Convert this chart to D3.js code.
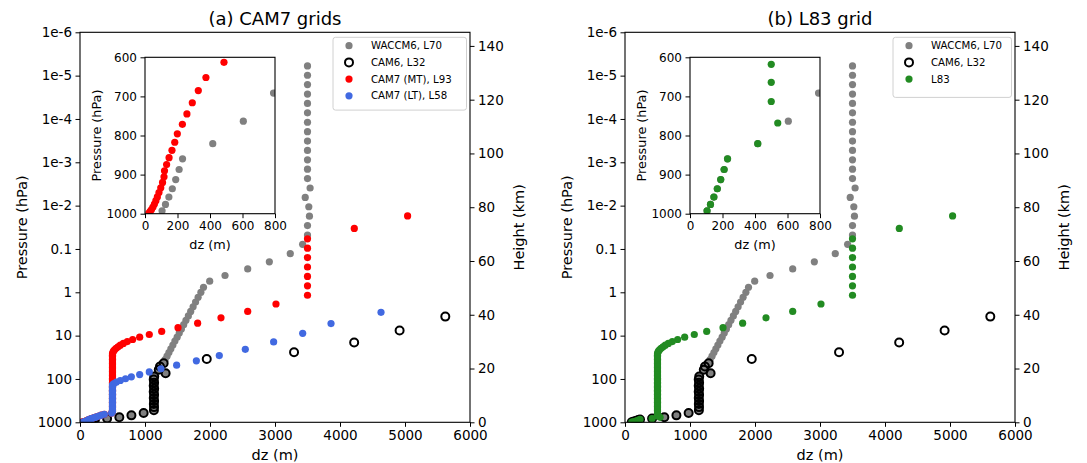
<!DOCTYPE html>
<html>
<head>
<meta charset="utf-8">
<script src="https://cdn.jsdelivr.net/npm/d3@7"></script>
<style>
  body { margin: 0; background: #fff; }
  text { font-family: "DejaVu Sans", sans-serif; fill: #000; }
</style>
</head>
<body>
<svg id="chart" width="1087" height="463"></svg>
<script>
// ---------------- level data: mid-level pressure (hPa) and layer thickness dz (m) ----------------

// WACCM6, 70 levels (top -> bottom)
const waccmP = [5.96e-6, 9.8e-6, 1.61e-5, 2.66e-5, 4.38e-5, 7.22e-5, 1.19e-4, 1.96e-4, 3.23e-4, 5.32e-4,
  8.76e-4, 1.44e-3, 2.38e-3, 3.92e-3, 6.46e-3, 1.06e-2, 1.75e-2, 2.89e-2, 4.76e-2, 0.078,
  0.128, 0.198, 0.289, 0.410, 0.555, 0.764, 1.00, 1.30, 1.68, 2.16,
  2.76, 3.51, 4.44, 5.59, 7.00, 8.73, 10.83, 13.37, 16.43, 20.10,
  24.49, 29.71, 35.9, 43.19, 51.68, 61.52, 73.75, 87.82, 103.32, 121.55,
  142.99, 168.23, 197.91, 232.83, 273.91, 322.24, 379.10, 445.99, 524.69, 609.78,
  691.39, 763.40, 820.86, 859.53, 887.02, 912.64, 936.20, 957.49, 976.33, 992.56];
const waccmDz = [3500, 3500, 3500, 3500, 3500, 3500, 3500, 3500, 3500, 3500,
  3500, 3500, 3500, 3540, 3465, 3520, 3530, 3500, 3500, 3425,
  3235, 2913, 2580, 2231, 1995, 1900, 1860, 1817, 1778, 1740,
  1703, 1667, 1630, 1595, 1560, 1527, 1494, 1460, 1429, 1398,
  1368, 1339, 1310, 1287, 1230, 1212, 1317, 1142, 1134, 1140,
  1134, 1141, 1134, 1140, 1135, 1140, 1136, 1139, 1137, 979,
  791, 605, 417, 231, 210, 189, 168, 147, 126, 105];

// CAM6, 32 levels
const cam6P = [3.64, 7.59, 14.36, 24.13, 34.47, 43.19, 51.68, 61.52, 73.75, 87.82,
  103.32, 121.55, 142.99, 168.23, 197.91, 232.83, 273.91, 322.24, 379.10, 445.99,
  524.69, 609.78, 691.39, 763.40, 820.86, 859.53, 887.02, 912.64, 936.20, 957.49,
  976.33, 992.56];
const cam6Dz = [5620, 4917, 4218, 3293, 1950, 1287, 1230, 1212, 1317, 1142,
  1134, 1140, 1134, 1141, 1134, 1140, 1135, 1140, 1136, 1139,
  1137, 979, 791, 605, 417, 231, 210, 189, 168, 147,
  126, 105];

// CAM7 (MT), 93 levels
const mtP = [0.0173, 0.0335, 0.0582, 0.0960, 0.158, 0.261, 0.430, 0.709, 1.17, 1.86,
  2.77, 3.89, 5.17, 6.55, 7.98, 9.42, 10.85, 12.28, 13.71, 15.15,
  16.61, 18.10, 19.64, 21.23, 22.88, 24.61, 26.44, 28.4, 30.5, 32.8,
  35.2, 37.9, 40.7, 43.7, 46.9, 50.4, 54.1, 58.1, 62.4, 67.0,
  72.0, 77.3, 83.0, 89.2, 95.8, 102.8, 110.5, 118.6, 127.4, 136.9,
  147.0, 157.9, 169.6, 182.1, 195.6, 210.1, 225.7, 242.4, 260.3, 279.6,
  300.3, 322.6, 346.4, 372.1, 399.6, 429.2, 461.0, 495.2, 531.8, 571.2,
  612.8, 651.7, 685.2, 716.3, 744.8, 771.3, 795.6, 817.3, 838.0, 856.8,
  874.3, 890.2, 905.5, 920.1, 933.7, 946.0, 957.0, 966.8, 975.4, 982.9,
  989.2, 994.3, 998.3];
const mtDz = [5040, 4220, 3500, 3500, 3500, 3500, 3500, 3500, 3500, 3015,
  2580, 2169, 1810, 1508, 1257, 1066, 918, 810, 728, 667,
  620, 585, 555, 532, 515, 505, 500, 500, 500, 500,
  500, 500, 500, 500, 500, 500, 500, 500, 500, 500,
  500, 500, 500, 500, 500, 500, 500, 500, 500, 500,
  500, 500, 500, 500, 500, 500, 500, 500, 500, 500,
  500, 500, 500, 500, 500, 500, 500, 500, 500, 500,
  486, 375, 328, 291, 258, 230, 199, 183, 166, 148,
  133, 120, 117, 108, 97, 86, 76, 67, 58, 49,
  40, 32, 24];

// CAM7 (LT), 58 levels
const ltP = [2.9, 5.27, 8.85, 14.0, 20.7, 28.8, 38.1, 48.0, 58.4, 68.8,
  79.0, 89.2, 98.8, 108.5, 117.9, 127.3, 136.9, 147.0, 157.9, 169.6,
  182.1, 195.6, 210.1, 225.7, 242.4, 260.3, 279.6, 300.3, 322.6, 346.4,
  372.1, 399.6, 429.2, 461.0, 495.2, 531.8, 571.2, 612.8, 651.7, 685.2,
  716.3, 744.8, 771.3, 795.6, 817.3, 838.0, 856.8, 874.3, 890.6, 906.5,
  921.7, 936.0, 949.4, 961.7, 972.7, 982.4, 990.6, 997.1];
const ltDz = [4631, 3862, 3426, 2979, 2543, 2143, 1790, 1487, 1246, 1066,
  918, 790, 700, 620, 560, 520, 500, 500, 500, 500,
  500, 500, 500, 500, 500, 500, 500, 500, 500, 500,
  500, 500, 500, 500, 500, 500, 500, 486, 375, 328,
  291, 258, 230, 199, 183, 166, 148, 133, 127, 120,
  112, 104, 95, 85, 75, 64, 52, 40];

// L83
const l83P = [0.0173, 0.0335, 0.0582, 0.0960, 0.158, 0.261, 0.430, 0.709, 1.17, 1.86,
  2.77, 3.89, 5.17, 6.55, 7.98, 9.42, 10.85, 12.28, 13.71, 15.15,
  16.61, 18.10, 19.64, 21.23, 22.88, 24.61, 26.44, 28.4, 30.5, 32.8,
  35.2, 37.9, 40.7, 43.7, 46.9, 50.4, 54.1, 58.1, 62.4, 67.0,
  72.0, 77.3, 83.0, 89.2, 95.8, 102.8, 110.5, 118.6, 127.4, 136.9,
  147.0, 157.9, 169.6, 182.1, 195.6, 210.1, 225.7, 242.4, 260.3, 279.6,
  300.3, 322.6, 346.4, 372.1, 399.6, 429.2, 461.0, 495.2, 531.8, 573.0,
  618.0, 664.0, 713.0, 768.0, 820.86, 859.53, 887.02, 912.64, 936.20, 957.49,
  976.33, 992.56];
const l83Dz = [5040, 4220, 3500, 3500, 3500, 3500, 3500, 3500, 3500, 3015,
  2580, 2169, 1810, 1508, 1257, 1066, 918, 810, 728, 667,
  620, 585, 555, 532, 515, 505, 500, 500, 500, 500,
  500, 500, 500, 500, 500, 500, 500, 500, 500, 500,
  500, 500, 500, 500, 500, 500, 500, 500, 500, 500,
  500, 500, 500, 500, 500, 500, 500, 500, 500, 500,
  500, 500, 500, 500, 500, 500, 500, 500, 500, 500,
  500, 500, 500, 540, 417, 231, 210, 189, 168, 147,
  126, 105];

// axis ticks and labels
const dzTicks = [0, 1000, 2000, 3000, 4000, 5000, 6000];
const pTicks = [1000, 100, 10, 1, 0.1, 1e-2, 1e-3, 1e-4, 1e-5, 1e-6];
const pTickLabels = ["1000", "100", "10", "1", "0.1", "1e-2", "1e-3", "1e-4", "1e-5", "1e-6"];
const kmTicks = [0, 20, 40, 60, 80, 100, 120, 140];
const insetDzTicks = [0, 200, 400, 600, 800];
const insetPTicks = [600, 700, 800, 900, 1000];

const titles = ["(a) CAM7 grids", "(b) L83 grid"];
const names = {
  waccm: "WACCM6, L70", cam6: "CAM6, L32",
  mt: "CAM7 (MT), L93", lt: "CAM7 (LT), L58", l83: "L83"
};

// ---------------- drawing ----------------
const svg = d3.select("#chart");
const zip = (ps, dzs) => ps.map((p, i) => ({ p, dz: dzs[i] }));

const series = {
  waccm: { data: zip(waccmP, waccmDz), fill: "#808080", stroke: "none" },
  cam6:  { data: zip(cam6P, cam6Dz), fill: "none", stroke: "#000" },
  mt:    { data: zip(mtP, mtDz), fill: "#ff0000", stroke: "none" },
  lt:    { data: zip(ltP, ltDz), fill: "#4169e1", stroke: "none" },
  l83:   { data: zip(l83P, l83Dz), fill: "#228b22", stroke: "none" }
};

const M = { w: 390, h: 390, top: 32.3 };
const R_DOT = 3.6, R_RING = 4.0, RING_W = 2;
const TICK_FS = 13.5, LABEL_FS = 14.5, TITLE_FS = 18;
const IN = { dx: 65, dy: 25, w: 130, h: 156.4 };
const HMAX = 7 * Math.log(1e9); // km, scale height 7 km from 1000 hPa to 1e-6 hPa
const fmtInt = d3.format("d");

function drawMarks(g, key, x, y) {
  const s = series[key];
  g.append("g").selectAll("circle").data(s.data).join("circle")
    .attr("cx", d => x(d.dz)).attr("cy", d => y(d.p))
    .attr("r", s.stroke === "none" ? R_DOT : R_RING)
    .attr("fill", s.fill)
    .attr("stroke", s.stroke)
    .attr("stroke-width", s.stroke === "none" ? 0 : RING_W);
}

function styleAxis(a, fs) {
  a.select(".domain").remove();
  a.selectAll(".tick line").attr("stroke", "#000").attr("stroke-width", 1);
  a.selectAll(".tick text").attr("font-size", fs).attr("fill", "#000")
    .style("font-family", '"DejaVu Sans", sans-serif');
}

function drawPanel(idx, left, keys, insetKeys) {
  const g = svg.append("g").attr("transform", `translate(${left},${M.top})`);
  const x = d3.scaleLinear().domain([0, 6000]).range([0, M.w]);
  const y = d3.scaleLog().domain([1000, 1e-6]).range([M.h, 0]);
  const yk = d3.scaleLinear().domain([0, HMAX]).range([M.h, 0]);

  const clipId = `clip-main-${idx}`;
  g.append("clipPath").attr("id", clipId).append("rect")
    .attr("width", M.w).attr("height", M.h);
  const plot = g.append("g").attr("clip-path", `url(#${clipId})`);
  keys.forEach(k => drawMarks(plot, k, x, y));

  // axes
  const ax = g.append("g").attr("transform", `translate(0,${M.h})`)
    .call(d3.axisBottom(x).tickValues(dzTicks).tickSize(4.5).tickPadding(3.5).tickFormat(fmtInt));
  styleAxis(ax, TICK_FS);
  const ay = g.append("g")
    .call(d3.axisLeft(y).tickValues(pTicks).tickSize(4.5).tickPadding(3.5)
      .tickFormat((d, i) => pTickLabels[i]));
  styleAxis(ay, TICK_FS);
  const ar = g.append("g").attr("transform", `translate(${M.w},0)`)
    .call(d3.axisRight(yk).tickValues(kmTicks).tickSize(4.5).tickPadding(3.5).tickFormat(fmtInt));
  styleAxis(ar, TICK_FS);

  g.append("rect").attr("width", M.w).attr("height", M.h)
    .attr("fill", "none").attr("stroke", "#000").attr("stroke-width", 1.1);

  g.append("text").attr("x", M.w / 2).attr("y", -7).attr("text-anchor", "middle")
    .attr("font-size", TITLE_FS).text(titles[idx]);
  g.append("text").attr("x", M.w / 2).attr("y", M.h + 38).attr("text-anchor", "middle")
    .attr("font-size", LABEL_FS).text("dz (m)");
  g.append("text").attr("transform", `translate(${-53},${M.h / 2}) rotate(-90)`)
    .attr("text-anchor", "middle").attr("font-size", LABEL_FS).text("Pressure (hPa)");
  g.append("text").attr("transform", `translate(${M.w + 54},${M.h / 2}) rotate(-90)`)
    .attr("text-anchor", "middle").attr("font-size", LABEL_FS).text("Height (km)");

  // legend
  const lg = g.append("g").attr("transform", `translate(${M.w - 3.5},5)`);
  const lw = keys.length === 4 ? 133.5 : 118.5;
  const lh = keys.length * 16.7 + (keys.length === 4 ? 6 : 10);
  lg.append("rect").attr("x", -lw).attr("width", lw).attr("height", lh).attr("rx", 2.5)
    .attr("fill", "#fff").attr("fill-opacity", 0.8).attr("stroke", "#d0d0d0").attr("stroke-width", 1);
  keys.forEach((k, i) => {
    const s = series[k];
    const row = lg.append("g").attr("transform", `translate(${-lw + 16},${8.4 + i * 16.7})`);
    row.append("circle").attr("r", s.stroke === "none" ? R_DOT : R_RING)
      .attr("fill", s.fill).attr("stroke", s.stroke)
      .attr("stroke-width", s.stroke === "none" ? 0 : RING_W);
    row.append("text").attr("x", 22).attr("dy", "0.35em").attr("font-size", 10.2).text(names[k]);
  });

  // inset: lower troposphere
  const ig = g.append("g").attr("transform", `translate(${IN.dx},${IN.dy})`);
  const xi = d3.scaleLinear().domain([0, 800]).range([0, IN.w]);
  const yi = d3.scaleLinear().domain([600, 1000]).range([0, IN.h]);
  ig.append("rect").attr("width", IN.w).attr("height", IN.h).attr("fill", "#fff");
  const iclip = `clip-inset-${idx}`;
  ig.append("clipPath").attr("id", iclip).append("rect").attr("width", IN.w).attr("height", IN.h);
  const iplot = ig.append("g").attr("clip-path", `url(#${iclip})`);
  insetKeys.forEach(k => drawMarks(iplot, k, xi, yi));
  const ixa = ig.append("g").attr("transform", `translate(0,${IN.h})`)
    .call(d3.axisBottom(xi).tickValues(insetDzTicks).tickSize(4.5).tickPadding(3.5).tickFormat(fmtInt));
  styleAxis(ixa, 12);
  const iya = ig.append("g")
    .call(d3.axisLeft(yi).tickValues(insetPTicks).tickSize(4.5).tickPadding(3.5).tickFormat(fmtInt));
  styleAxis(iya, 12);
  ig.append("rect").attr("width", IN.w).attr("height", IN.h)
    .attr("fill", "none").attr("stroke", "#000").attr("stroke-width", 1.1);
  ig.append("text").attr("x", IN.w / 2).attr("y", IN.h + 35).attr("text-anchor", "middle")
    .attr("font-size", 12.8).text("dz (m)");
  ig.append("text").attr("transform", `translate(${-44},${IN.h / 2}) rotate(-90)`)
    .attr("text-anchor", "middle").attr("font-size", 12.8).text("Pressure (hPa)");
}

drawPanel(0, 80, ["waccm", "cam6", "mt", "lt"], ["waccm", "mt"]);
drawPanel(1, 625, ["waccm", "cam6", "l83"], ["waccm", "l83"]);
</script>
</body>
</html>
